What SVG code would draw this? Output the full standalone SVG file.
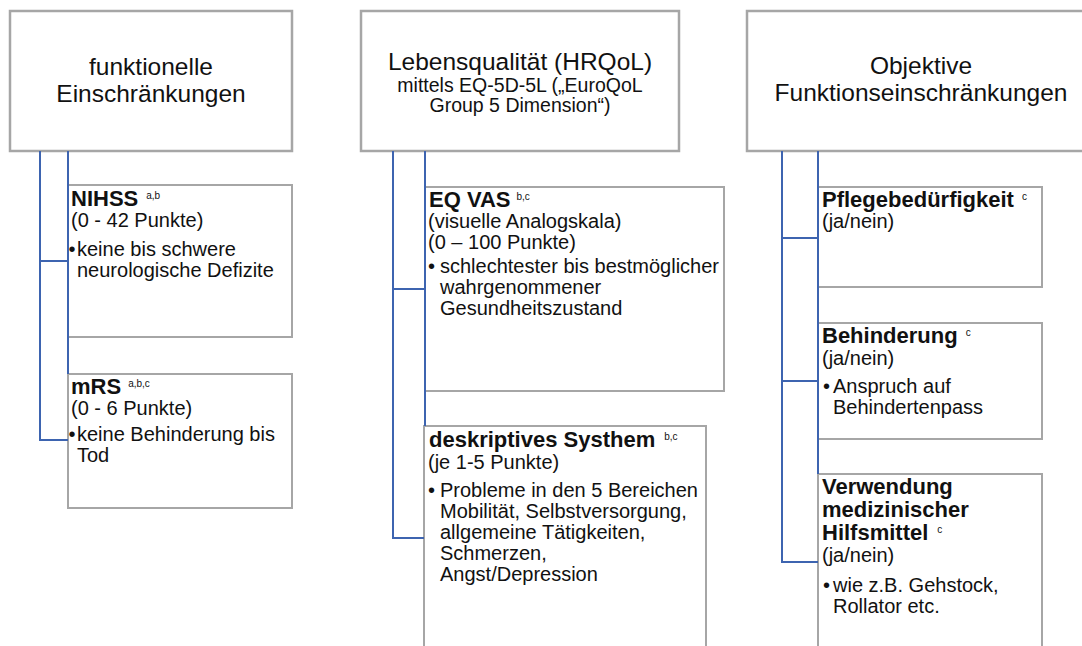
<svg xmlns="http://www.w3.org/2000/svg" width="1082" height="646" viewBox="0 0 1082 646">
<style>
.hdr{fill:#fff;stroke:#a6a6a6;stroke-width:2.5}
.box{fill:#fff;stroke:#a6a6a6;stroke-width:2}
.con{fill:none;stroke:#3d64b0;stroke-width:2}
text{font-family:"Liberation Sans",Arial,sans-serif;fill:#111}
.h{font-size:24.5px;text-anchor:middle}
.hs{font-size:19.5px;text-anchor:middle}
.t{font-size:20px}
.b{font-size:22px;font-weight:bold}
.sup{font-size:10px;font-weight:normal}
</style>
<rect width="1082" height="646" fill="#fff"/>
<g id="header1">
<rect class="hdr" x="10" y="11" width="282" height="140"/>
<text class="h" x="151" y="75">funktionelle</text>
<text class="h" x="151" y="102">Einschränkungen</text>
</g>
<g id="header2">
<rect class="hdr" x="361" y="11" width="318" height="140"/>
<text class="h" x="520" y="70">Lebensqualität (HRQoL)</text>
<text class="hs" x="520" y="92">mittels EQ-5D-5L („EuroQoL</text>
<text class="hs" x="520" y="112">Group 5 Dimension“)</text>
</g>
<g id="header3">
<rect class="hdr" x="747" y="11" width="350" height="140"/>
<text class="h" x="921" y="74">Objektive</text>
<text class="h" x="921" y="101">Funktionseinschränkungen</text>
</g>
<g id="nihss">
<rect class="box" x="68" y="185" width="224" height="152"/>
<text class="b" x="71" y="206">NIHSS<tspan class="sup" dx="8" dy="-7">a,b</tspan></text>
<text class="t" x="71" y="227">(0 - 42 Punkte)</text>
<text class="t" x="68.5" y="256">•</text>
<text class="t" x="77" y="256">keine bis schwere</text>
<text class="t" x="77" y="277">neurologische Defizite</text>
</g>
<g id="mrs">
<rect class="box" x="68" y="374" width="224" height="134"/>
<text class="b" x="71" y="394">mRS<tspan class="sup" dx="7" dy="-7">a,b,c</tspan></text>
<text class="t" x="71" y="415">(0 - 6 Punkte)</text>
<text class="t" x="68.5" y="441">•</text>
<text class="t" x="77" y="441">keine Behinderung bis</text>
<text class="t" x="77" y="462">Tod</text>
</g>
<g id="eqvas">
<rect class="box" x="425" y="187" width="299" height="204"/>
<text class="b" x="429" y="207">EQ VAS<tspan class="sup" dx="6" dy="-7">b,c</tspan></text>
<text class="t" x="428" y="228">(visuelle Analogskala)</text>
<text class="t" x="428" y="249">(0 – 100 Punkte)</text>
<text class="t" x="428" y="273">•</text>
<text class="t" x="440" y="273">schlechtester bis bestmöglicher</text>
<text class="t" x="440" y="294">wahrgenommener</text>
<text class="t" x="440" y="315">Gesundheitszustand</text>
</g>
<g id="deskriptiv">
<rect class="box" x="424" y="426" width="282" height="240"/>
<text class="b" x="429" y="447">deskriptives Systhem<tspan class="sup" dx="9" dy="-7">b,c</tspan></text>
<text class="t" x="428" y="469">(je 1-5 Punkte)</text>
<text class="t" x="428" y="497">•</text>
<text class="t" x="440" y="497">Probleme in den 5 Bereichen</text>
<text class="t" x="440" y="518">Mobilität, Selbstversorgung,</text>
<text class="t" x="440" y="539">allgemeine Tätigkeiten,</text>
<text class="t" x="440" y="560">Schmerzen,</text>
<text class="t" x="440" y="581">Angst/Depression</text>
</g>
<g id="pflege">
<rect class="box" x="818" y="187" width="224" height="100"/>
<text class="b" x="822" y="207">Pflegebedürfigkeit<tspan class="sup" dx="8" dy="-7">c</tspan></text>
<text class="t" x="822" y="228">(ja/nein)</text>
</g>
<g id="behinderung">
<rect class="box" x="818" y="323" width="224" height="116"/>
<text class="b" x="822" y="343">Behinderung<tspan class="sup" dx="8" dy="-7">c</tspan></text>
<text class="t" x="822" y="365">(ja/nein)</text>
<text class="t" x="823" y="393">•</text>
<text class="t" x="833" y="393">Anspruch auf</text>
<text class="t" x="833" y="414">Behindertenpass</text>
</g>
<g id="hilfsmittel">
<rect class="box" x="818" y="474" width="224" height="190"/>
<text class="b" x="822" y="494">Verwendung</text>
<text class="b" x="822" y="517">medizinischer</text>
<text class="b" x="822" y="540">Hilfsmittel<tspan class="sup" dx="9" dy="-7">c</tspan></text>
<text class="t" x="822" y="562">(ja/nein)</text>
<text class="t" x="823" y="592">•</text>
<text class="t" x="833" y="592">wie z.B. Gehstock,</text>
<text class="t" x="833" y="613">Rollator etc.</text>
</g>
<g id="connectors">
<path class="con" d="M40,151 V440 H68 M68,151 V374 M40,261 H68"/>
<path class="con" d="M393,151 V538 H424 M425,151 V426 M393,289 H425"/>
<path class="con" d="M782,151 V562 H818 M818,151 V474 M782,238 H818 M782,381 H818"/>
</g>
</svg>
